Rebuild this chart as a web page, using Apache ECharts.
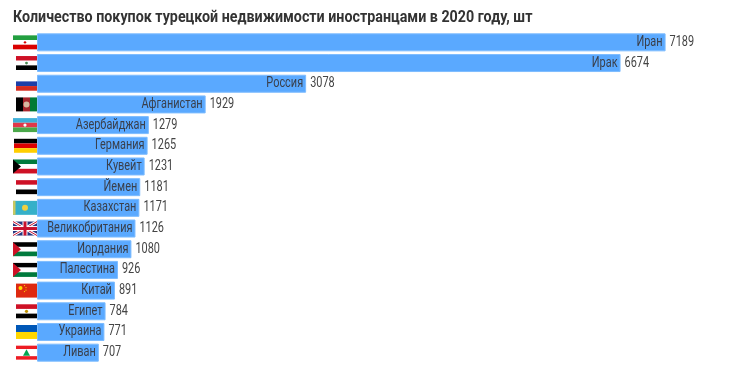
<!DOCTYPE html>
<html>
<head>
<meta charset="utf-8">
<style>
  html, body { margin: 0; padding: 0; background: #fff; }
  #chart { width: 740px; height: 365px; }
</style>
<script src="https://cdn.jsdelivr.net/npm/echarts@6/dist/echarts.min.js"></script>
</head>
<body>
<div id="chart"></div>
<script>
const countries = ["Иран", "Ирак", "Россия", "Афганистан", "Азербайджан", "Германия", "Кувейт", "Йемен",
  "Казахстан", "Великобритания", "Иордания", "Палестина", "Китай", "Египет", "Украина", "Ливан"];
const purchases = [7189, 6674, 3078, 1929, 1279, 1265, 1231, 1181, 1171, 1126, 1080, 926, 891, 784, 771, 707];
const flagCodes = ["ir", "iq", "ru", "af", "az", "de", "kw", "ye", "kz", "gb", "jo", "ps", "cn", "eg", "ua", "lb"];

// no condensed font on the box, so Roboto gets squeezed horizontally
const fontName = "Roboto, sans-serif";
const squeeze = 0.84;
const labelSqueeze = 0.78;

// flag stripes, top to bottom or left to right
const flagStyles = {
  ir: { w: 24, h: 14, rows: ["#239f40", "#ffffff", "#da0000"], dot: "#da0000", r: 1.2 },
  iq: { w: 21, h: 14, rows: ["#ce1126", "#ffffff", "#000000"], dot: "#4a8a50", r: 1.4 },
  ru: { w: 21, h: 14, rows: ["#ffffff", "#1c3fa8", "#d52b1e"] },
  af: { w: 21, h: 14, cols: ["#000000", "#a8262c", "#007a36"], dot: "#d8b8a0", r: 3 },
  az: { w: 24, h: 14, rows: ["#3fb0d8", "#e0384a", "#4aa84a"], dot: "#ffffff", r: 1.6 },
  de: { w: 23, h: 14, rows: ["#000000", "#dd0000", "#ffce00"] },
  kw: { w: 24, h: 14, rows: ["#007a3d", "#ffffff", "#ce1126"], tri: "#000000" },
  ye: { w: 21, h: 14, rows: ["#ce1126", "#ffffff", "#000000"] },
  kz: { w: 24, h: 14, rows: ["#35b0c8"], dot: "#f0d040", r: 3, strip: "#c8c860" },
  gb: { w: 24, h: 14, uk: true },
  jo: { w: 24, h: 14, rows: ["#000000", "#ffffff", "#007a3d"], tri: "#ce1126" },
  ps: { w: 24, h: 14, rows: ["#000000", "#ffffff", "#007a3d"], tri: "#ce1126" },
  cn: { w: 21, h: 14, rows: ["#de2910"], stars: "#ffde00" },
  eg: { w: 21, h: 14, rows: ["#ce1126", "#ffffff", "#000000"], dot: "#c09300", r: 1.6 },
  ua: { w: 21, h: 14, rows: ["#0057b7", "#ffd700"] },
  lb: { w: 21, h: 14, rows: ["#ed1c24", "#ffffff", "#ffffff", "#ed1c24"], tree: "#00a651" }
};

function flagParts(code, right, cy) {
  const f = flagStyles[code];
  const x = right - f.w, y = cy - f.h / 2;
  const parts = [];
  const rect = (rx, ry, rw, rh, fill) => parts.push({ type: "rect", shape: { x: rx, y: ry, width: rw, height: rh }, style: { fill } });
  if (f.uk) {
    rect(x, y, f.w, f.h, "#27357f");
    const line = (x1, y1, x2, y2, stroke, lineWidth) => parts.push({ type: "line", shape: { x1, y1, x2, y2 }, style: { stroke, lineWidth } });
    line(x, y, x + f.w, y + f.h, "#ffffff", 3);
    line(x + f.w, y, x, y + f.h, "#ffffff", 3);
    line(x, y, x + f.w, y + f.h, "#c8102e", 1);
    line(x + f.w, y, x, y + f.h, "#c8102e", 1);
    rect(x + f.w / 2 - 2.5, y, 5, f.h, "#ffffff");
    rect(x, cy - 2.5, f.w, 5, "#ffffff");
    rect(x + f.w / 2 - 1.5, y, 3, f.h, "#c8102e");
    rect(x, cy - 1.5, f.w, 3, "#c8102e");
    return parts;
  }
  if (f.rows) {
    const n = f.rows.length;
    f.rows.forEach((c, i) => rect(x, y + i * f.h / n, f.w, f.h / n, c));
  }
  if (f.cols) {
    const n = f.cols.length;
    f.cols.forEach((c, i) => rect(x + i * f.w / n, y, f.w / n, f.h, c));
  }
  if (f.strip) rect(x, y, 2.5, f.h, f.strip);
  if (f.tri) {
    parts.push({ type: "polygon", shape: { points: [[x, y], [x + 8, cy], [x, y + f.h]] }, style: { fill: f.tri } });
  }
  if (f.dot) {
    parts.push({ type: "circle", shape: { cx: x + f.w / 2, cy, r: f.r }, style: { fill: f.dot } });
  }
  if (f.stars) {
    parts.push({ type: "circle", shape: { cx: x + 4.5, cy: y + 4.5, r: 2 }, style: { fill: f.stars } });
    [[8.5, 2], [10, 4], [10, 6.5], [8.5, 8]].forEach(p => {
      parts.push({ type: "circle", shape: { cx: x + p[0], cy: y + p[1], r: 0.6 }, style: { fill: f.stars } });
    });
  }
  if (f.tree) {
    parts.push({ type: "polygon", shape: { points: [[x + f.w / 2, y + 3.5], [x + f.w / 2 + 3.5, y + 10], [x + f.w / 2 - 3.5, y + 10]] }, style: { fill: f.tree } });
  }
  return parts;
}

// name sits inside the bar end, value just outside it
function rowLabels(params, api) {
  const i = api.value(1);
  const pt = api.coord([api.value(0), i]);
  return {
    type: "group",
    children: [
      {
        type: "text",
        x: pt[0] - 3,
        y: pt[1],
        scaleX: labelSqueeze,
        style: { text: countries[i], x: 0, y: 0, align: "right", verticalAlign: "middle", font: "14px " + fontName, fill: "#3a3f4a" }
      },
      {
        type: "text",
        x: pt[0] + 4,
        y: pt[1],
        scaleX: labelSqueeze,
        style: { text: String(purchases[i]), x: 0, y: 0, align: "left", verticalAlign: "middle", font: "14px " + fontName, fill: "#444444" }
      }
    ]
  };
}

const chart = echarts.init(document.getElementById("chart"), null, { renderer: "canvas" });
chart.setOption({
  animation: false,
  backgroundColor: "#ffffff",
  graphic: [
    {
      type: "text",
      x: 13,
      y: 18,
      scaleX: squeeze,
      style: {
        text: "Количество покупок турецкой недвижимости иностранцами в 2020 году, шт",
        x: 0,
        y: 0,
        align: "left",
        verticalAlign: "middle",
        font: "bold 17px " + fontName,
        fill: "#333333"
      }
    }
  ],
  grid: { left: 37, right: 0, top: 32, bottom: 2 },
  xAxis: { type: "value", min: 0, max: 8040, show: false },
  yAxis: {
    type: "category",
    data: countries,
    inverse: true,
    axisLine: { show: false },
    axisTick: { show: false },
    axisLabel: { show: false }
  },
  series: [
    {
      type: "bar",
      data: purchases,
      barWidth: 18,
      itemStyle: { color: "#5aa9ff", borderColor: "#7dbcff", borderWidth: 1 }
    },
    {
      type: "custom",
      clip: false,
      silent: true,
      z: 5,
      data: purchases.map((v, i) => [v, i]),
      encode: { x: 0, y: 1 },
      renderItem: rowLabels
    },
    {
      type: "custom",
      clip: false,
      silent: true,
      z: 1,
      data: flagCodes.map((c, i) => [0, i]),
      encode: { x: 0, y: 1 },
      renderItem: (params, api) => {
        const pt = api.coord([0, api.value(1)]);
        return { type: "group", children: flagParts(flagCodes[params.dataIndex], pt[0], pt[1]) };
      }
    }
  ]
});
</script>
</body>
</html>
